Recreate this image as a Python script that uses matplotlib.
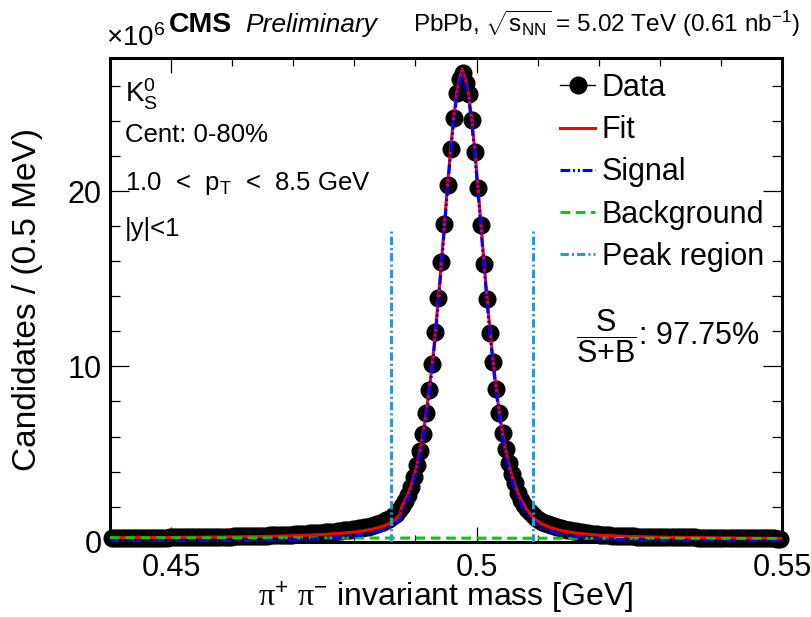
import numpy as np
import matplotlib
matplotlib.use('Agg')
import matplotlib.pyplot as plt
from matplotlib.lines import Line2D
from matplotlib.ticker import MultipleLocator

plt.rcParams['font.family'] = ['Liberation Sans', 'DejaVu Sans']
plt.rcParams['mathtext.fontset'] = 'custom'
plt.rcParams['mathtext.rm'] = 'Liberation Serif'
plt.rcParams['mathtext.sf'] = 'Liberation Sans'
plt.rcParams['mathtext.it'] = 'Liberation Sans:italic'
plt.rcParams['mathtext.bf'] = 'Liberation Sans:bold'
plt.rcParams['lines.scale_dashes'] = False

# ---------------- data (counts in units of 10^6) ----------------
mass_min = 0.44
bin_width = 0.0005
counts = [
    0.21, 0.21, 0.21, 0.21, 0.21, 0.22, 0.22, 0.22, 0.22, 0.22, 0.22, 0.22, 0.22, 0.23, 0.23,
    0.23, 0.23, 0.23, 0.23, 0.24, 0.24, 0.24, 0.24, 0.25, 0.25,
    0.25, 0.25, 0.26, 0.26, 0.26, 0.27, 0.27, 0.27, 0.28, 0.28,
    0.28, 0.28, 0.29, 0.29, 0.29, 0.30, 0.30, 0.31, 0.31, 0.31,
    0.32, 0.32, 0.33, 0.33, 0.34, 0.35, 0.35, 0.36, 0.37, 0.37,
    0.38, 0.39, 0.39, 0.40, 0.41, 0.42, 0.43, 0.44, 0.45, 0.46,
    0.47, 0.48, 0.49, 0.50, 0.52, 0.53, 0.55, 0.56, 0.58, 0.60,
    0.62, 0.64, 0.66, 0.68, 0.70, 0.73, 0.76, 0.79, 0.82, 0.86,
    0.90, 0.95, 1.00, 1.06, 1.13, 1.22, 1.32, 1.45, 1.60, 1.80,
    2.03, 2.32, 2.68, 3.14, 3.71, 4.38, 5.20, 6.15, 7.34, 8.67,
    10.15, 11.94, 13.88, 15.97, 18.14, 20.34, 22.38, 24.19, 25.62, 26.40,
    26.77,
    26.20, 25.53, 24.06, 22.25, 20.19, 18.06, 15.87, 13.83, 11.90, 10.23,
    8.71, 7.37, 6.23, 5.28, 4.48, 3.85, 3.34, 2.80, 2.40, 2.10,
    1.88, 1.68, 1.50, 1.36, 1.25, 1.15, 1.06, 0.99, 0.93, 0.88,
    0.83, 0.78, 0.73, 0.69, 0.65, 0.62, 0.59, 0.56, 0.53, 0.50,
    0.48, 0.46, 0.44, 0.42, 0.40, 0.39, 0.37, 0.36, 0.35, 0.33,
    0.32, 0.32, 0.31, 0.31, 0.30, 0.30, 0.29, 0.29, 0.28, 0.28,
    0.28, 0.27, 0.27, 0.27, 0.26, 0.26, 0.26, 0.26, 0.25, 0.25,
    0.25, 0.25, 0.24, 0.24, 0.24, 0.24, 0.23, 0.23, 0.23, 0.23,
    0.22, 0.22, 0.22, 0.22, 0.22, 0.21, 0.21, 0.21, 0.21, 0.21,
    0.20, 0.20, 0.20, 0.20, 0.20, 0.20, 0.19, 0.19, 0.19, 0.19,
    0.19, 0.19, 0.18, 0.18,
]

fit_mass = [
    0.4400, 0.4450, 0.4500, 0.4550, 0.4600, 0.4650, 0.4700, 0.4750, 0.4775, 0.4800,
    0.4815, 0.4830, 0.4845, 0.4855, 0.4865, 0.4875,
    0.48775, 0.48825, 0.48875, 0.48925, 0.48975, 0.49025, 0.49075, 0.49125, 0.49175, 0.49225,
    0.49275, 0.49325, 0.49375, 0.49425, 0.49475, 0.49525, 0.49575, 0.49625, 0.49675, 0.49725,
    0.49765,
    0.49825, 0.49875, 0.49925, 0.49975, 0.50025, 0.50075, 0.50125, 0.50175, 0.50225, 0.50275,
    0.50325, 0.50375, 0.50425, 0.50475, 0.50525, 0.50575, 0.50625, 0.50675, 0.50725, 0.50775,
    0.5085, 0.5095, 0.5105, 0.5120, 0.5140, 0.5165, 0.5200, 0.5250, 0.5300, 0.5400, 0.5500,
]
fit_vals = [
    0.23, 0.235, 0.245, 0.26, 0.275, 0.30, 0.34, 0.41, 0.47, 0.55,
    0.62, 0.72, 0.86, 1.00, 1.20, 1.55,
    2.00, 2.30, 2.68, 3.14, 3.71, 4.38, 5.20, 6.15, 7.34, 8.67,
    10.15, 11.94, 13.88, 15.97, 18.14, 20.34, 22.38, 24.19, 25.62, 26.45,
    26.95,
    26.30, 25.40, 24.00, 22.20, 20.15, 18.00, 15.85, 13.80, 11.90, 10.20,
    8.70, 7.35, 6.20, 5.25, 4.45, 3.80, 3.25, 2.80, 2.42, 2.10,
    1.70, 1.30, 1.05, 0.82, 0.62, 0.48, 0.37, 0.30, 0.26, 0.22, 0.19,
]
signal_vals = [
    0.01, 0.015, 0.02, 0.03, 0.05, 0.07, 0.11, 0.18, 0.24, 0.32,
    0.39, 0.49, 0.63, 0.77, 0.97, 1.32,
    1.77, 2.07, 2.45, 2.91, 3.48, 4.15, 4.97, 5.92, 7.11, 8.44,
    9.92, 11.71, 13.65, 15.74, 17.91, 20.11, 22.15, 23.96, 25.39, 26.22,
    26.72,
    26.07, 25.17, 23.77, 21.97, 19.92, 17.77, 15.62, 13.57, 11.67, 9.97,
    8.47, 7.12, 5.97, 5.02, 4.22, 3.57, 3.02, 2.57, 2.19, 1.87,
    1.48, 1.08, 0.83, 0.60, 0.41, 0.27, 0.16, 0.10, 0.06, 0.03, 0.02,
]
bkg_mass = [0.44, 0.55]
bkg_vals = [0.23, 0.18]

peak_lo, peak_hi = 0.4860, 0.5092
peak_line_top = 17.8

centers = mass_min + bin_width * (np.arange(len(counts)) + 0.5)

# ---------------- figure ----------------
W, H = 812, 617
fig = plt.figure(figsize=(W / 100, H / 100), dpi=100)
ax = fig.add_axes([110 / W, 1 - 541.7 / H, (782 - 110) / W, (541.7 - 58) / H])

ax.plot(centers, counts, 'o', color='black', ms=12, clip_on=False, zorder=2)
fit_line, = ax.plot(fit_mass, fit_vals, color='#ff0000', lw=2.2, zorder=3)
bkg_line, = ax.plot(bkg_mass, bkg_vals, color='#00cc00', lw=2.2, zorder=4,
                    dashes=(7, 4))
sig_line, = ax.plot(fit_mass, signal_vals, color='#0000ff', lw=2.2, zorder=5,
                    dashes=(7, 2, 1.5, 2, 1.5, 2))
peak_line = None
for xm in (peak_lo, peak_hi):
    peak_line, = ax.plot([xm, xm], [0, peak_line_top], color='#1f9fd0', lw=2.2,
                         zorder=6, dashes=(6, 2.2, 1.5, 2.2))

ax.set_xlim(0.44, 0.55)
ax.set_ylim(0, 27.6)

ax.xaxis.set_major_locator(MultipleLocator(0.05))
ax.xaxis.set_minor_locator(MultipleLocator(0.01))
ax.yaxis.set_major_locator(MultipleLocator(10))
ax.yaxis.set_minor_locator(MultipleLocator(2))
ax.set_xticks([0.45, 0.5, 0.55])
ax.set_xticklabels(['0.45', '0.5', '0.55'])

ax.tick_params(axis='both', which='both', direction='in', top=True, right=True,
               width=0.9, labelsize=22)
ax.tick_params(axis='x', which='major', length=10.8, pad=8)
ax.tick_params(axis='x', which='minor', length=5.4)
ax.tick_params(axis='y', which='major', length=13.7, pad=6)
ax.tick_params(axis='y', which='minor', length=7.2)
for sp in ax.spines.values():
    sp.set_linewidth(2.2)

ax.set_xlabel(r'$\mathrm{\pi}^{\mathsf{+}}$ $\mathrm{\pi}^{\mathsf{-}}$ invariant mass [GeV]',
              fontsize=23, labelpad=-2)
ax.set_ylabel('Candidates / (0.5 MeV)', fontsize=24, labelpad=18)

# header texts (figure pixel coordinates)
def fpx(x, y):
    return x / W, 1 - y / H

fig.text(*fpx(106, 46), r'$\mathsf{\times10^{6}}$', fontsize=20, ha='left', va='baseline')
fig.text(*fpx(169, 32), 'CMS', fontsize=20.5, fontweight='bold', ha='left', va='baseline')
fig.text(*fpx(245, 32), 'Preliminary', fontsize=19, fontstyle='italic', ha='left', va='baseline')
fig.text(*fpx(800, 32), r'PbPb, $\mathsf{\sqrt{s_{NN}}}$ = 5.02 TeV (0.61 nb$\mathsf{^{-1}}$)',
         fontsize=17.5, ha='right', va='baseline')

# left annotations
fig.text(*fpx(125, 103), r'$\mathsf{K^{0}_{S}}$', fontsize=20, ha='left', va='baseline')
fig.text(*fpx(125, 142), 'Cent: 0-80%', fontsize=18.5, ha='left', va='baseline')
fig.text(*fpx(125, 190), r'1.0  <  $\mathsf{p_{T}}$  <  8.5 GeV', fontsize=18.5, ha='left', va='baseline')
fig.text(*fpx(125, 236), '|y|<1', fontsize=18.5, ha='left', va='baseline')

# S/(S+B)
fig.text(*fpx(576, 336), r'$\mathsf{\dfrac{S}{S{+}B}}$: 97.75%', fontsize=22, ha='left', va='center')

# legend
data_proxy = Line2D([], [], color='black', lw=1, marker='o', ms=12)
leg = ax.legend([data_proxy, fit_line, sig_line, bkg_line, peak_line],
                ['Data', 'Fit', 'Signal', 'Background', 'Peak region'],
                loc='upper left', bbox_to_anchor=fpx(560, 73), bbox_transform=fig.transFigure,
                frameon=False, fontsize=22, handlelength=1.15, handletextpad=0.22,
                labelspacing=0.4, borderpad=0, borderaxespad=0, numpoints=1)

fig.savefig('out.png', dpi=100)
